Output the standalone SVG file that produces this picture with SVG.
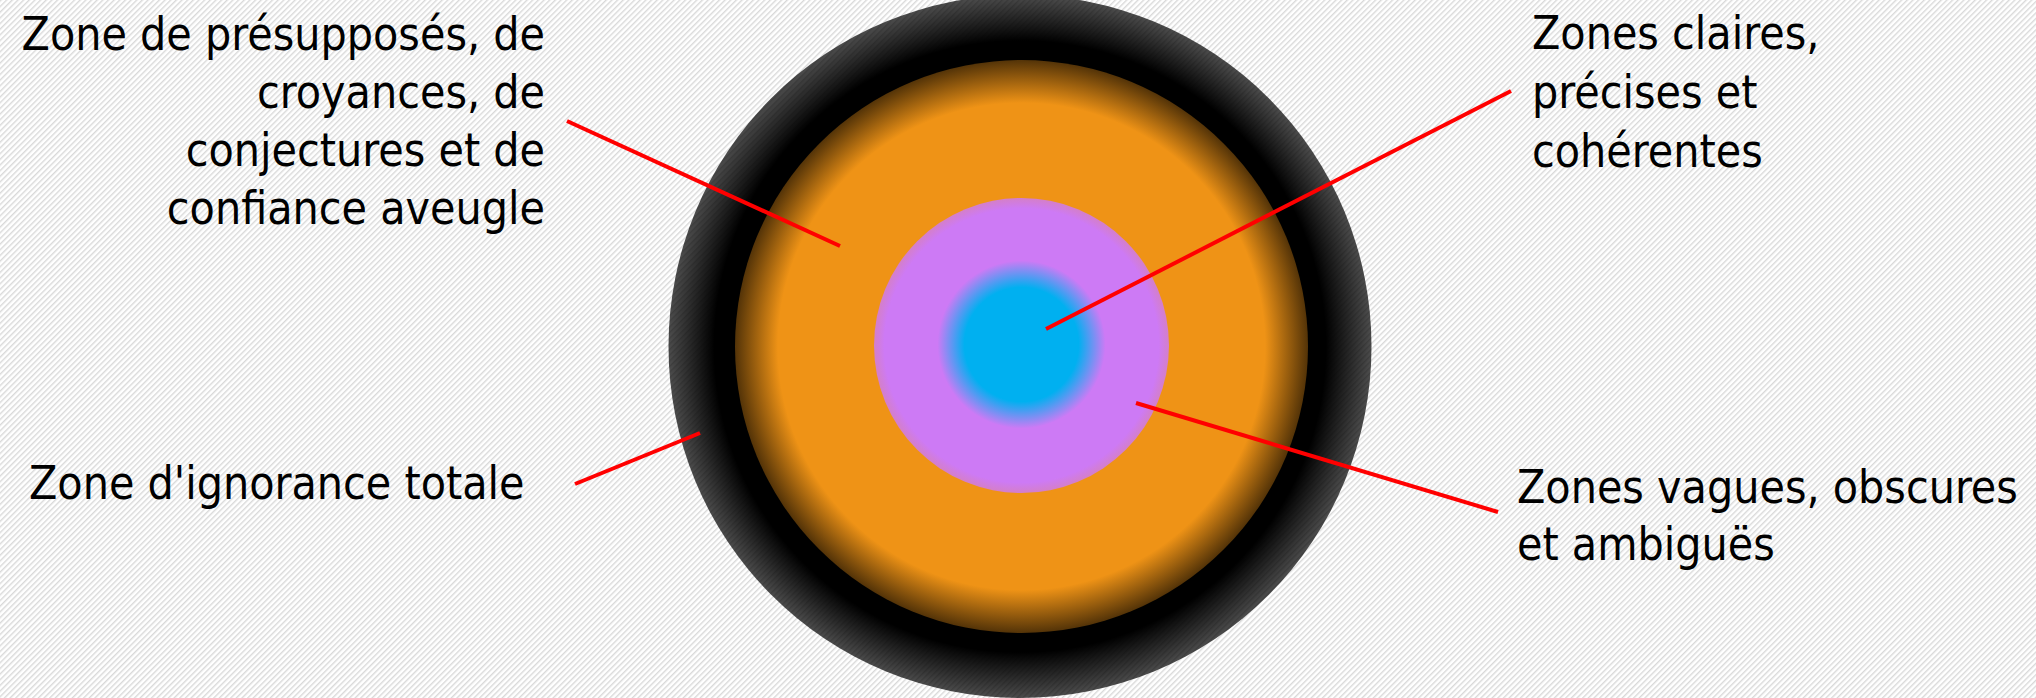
<svg xmlns="http://www.w3.org/2000/svg" width="2036" height="698" viewBox="0 0 2036 698">
  <defs>
    <pattern id="stripes" width="4" height="4" patternUnits="userSpaceOnUse" patternTransform="rotate(45)">
      <rect width="4" height="4" fill="#ffffff"/>
      <rect width="1.4" height="4" fill="#d9d9d9"/>
    </pattern>
    <radialGradient id="gOuter" cx="0.5" cy="0.5" r="0.5">
      <stop offset="0" stop-color="#000000"/>
      <stop offset="0.87" stop-color="#000000" stop-opacity="1"/>
      <stop offset="1" stop-color="#000000" stop-opacity="0.7"/>
    </radialGradient>
    <radialGradient id="gOrange" cx="0.5" cy="0.5" r="0.5">
      <stop offset="0" stop-color="#EF9316"/>
      <stop offset="0.85" stop-color="#EF9316" stop-opacity="1"/>
      <stop offset="1" stop-color="#EF9316" stop-opacity="0.35"/>
    </radialGradient>
    <radialGradient id="gPink" cx="0.5" cy="0.5" r="0.5">
      <stop offset="0" stop-color="#CD7AF5"/>
      <stop offset="0.93" stop-color="#CD7AF5" stop-opacity="1"/>
      <stop offset="1" stop-color="#CD7AF5" stop-opacity="0.8"/>
    </radialGradient>
    <radialGradient id="gBlue" cx="0.5" cy="0.5" r="0.5">
      <stop offset="0" stop-color="#00B0F0"/>
      <stop offset="0.68" stop-color="#00B0F0" stop-opacity="1"/>
      <stop offset="1" stop-color="#00B0F0" stop-opacity="0"/>
    </radialGradient>
  </defs>
  <style>
    .lbl { font-family: "DejaVu Sans Condensed", "Liberation Sans Narrow", "DejaVu Sans", sans-serif; font-size: 46px; fill: #000000; }
    .end { text-anchor: end; }
    .conn { stroke: #FF0000; stroke-width: 4; fill: none; }
  </style>
  <rect x="0" y="0" width="2036" height="698" fill="url(#stripes)"/>

  <g id="zone-ignorance">
    <circle cx="1020" cy="346.5" r="351.5" fill="url(#gOuter)"/>
    <text class="lbl" x="29" y="499">Zone d'ignorance totale</text>
  </g>
  <g id="zone-presupposes">
    <circle cx="1021.5" cy="346.5" r="286.5" fill="url(#gOrange)"/>
    <text class="lbl end" x="545" y="50">Zone de présupposés, de</text>
    <text class="lbl end" x="545" y="108">croyances, de</text>
    <text class="lbl end" x="545" y="166">conjectures et de</text>
    <text class="lbl end" x="545" y="224">confiance aveugle</text>
  </g>
  <g id="zones-vagues">
    <circle cx="1021.5" cy="345.5" r="147.5" fill="url(#gPink)"/>
    <text class="lbl" x="1517" y="503">Zones vagues, obscures</text>
    <text class="lbl" x="1517" y="560">et ambiguës</text>
  </g>
  <g id="zones-claires">
    <circle cx="1021.5" cy="344.5" r="84" fill="url(#gBlue)"/>
    <text class="lbl" x="1532" y="49">Zones claires,</text>
    <text class="lbl" x="1532" y="108">précises et</text>
    <text class="lbl" x="1532" y="167">cohérentes</text>
  </g>

  <g id="connectors">
    <line class="conn" x1="567" y1="121" x2="840" y2="246"/>
    <line class="conn" x1="1511" y1="91" x2="1046" y2="329"/>
    <line class="conn" x1="575" y1="484" x2="700" y2="433"/>
    <line class="conn" x1="1136" y1="403" x2="1498" y2="512"/>
  </g>
</svg>
